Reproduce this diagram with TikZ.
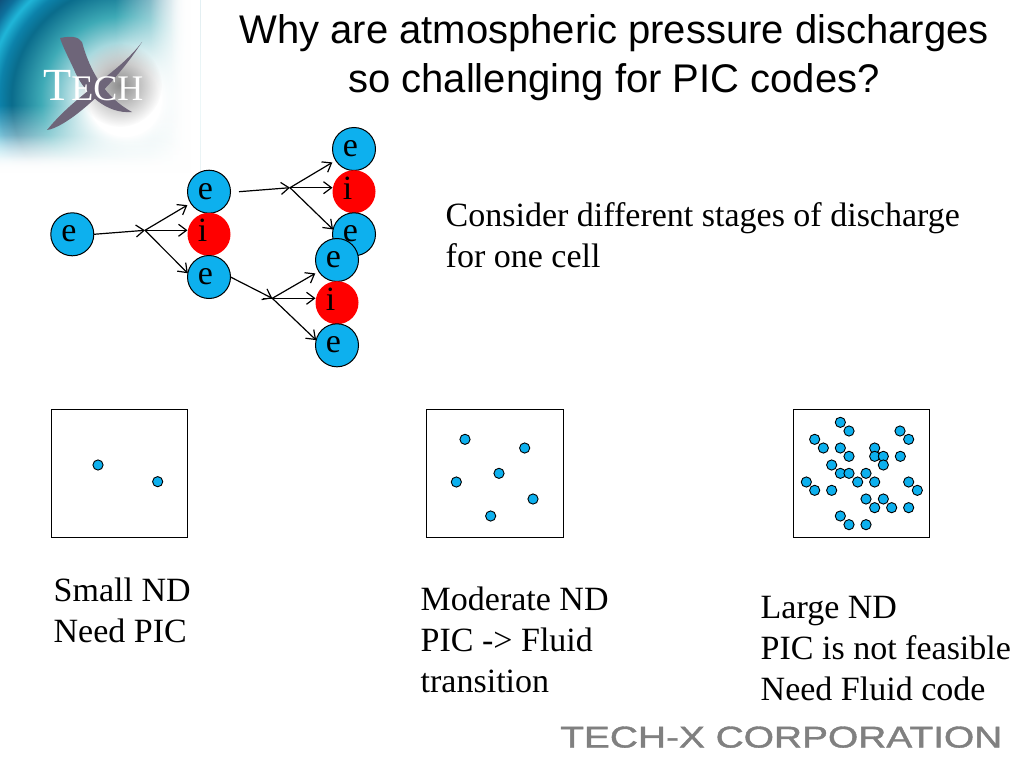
\documentclass[tikz,border=0pt]{standalone}
\usepackage{fontspec}
\setmainfont{Liberation Serif}
\newfontfamily\titlefont{Liberation Sans}
\usetikzlibrary{arrows.meta,fadings,calc}
\definecolor{dotblue}{HTML}{0DB0EE}
\definecolor{ionred}{HTML}{FF0000}
\definecolor{swoosh}{HTML}{6E6579}
\definecolor{footgray}{HTML}{808080}
\definecolor{lgA}{HTML}{3EAAB6}
\definecolor{lgB}{HTML}{0A6C8C}
\definecolor{lgC}{HTML}{0C82AA}
\definecolor{lgD}{HTML}{20B6D8}
\definecolor{lgE}{HTML}{0E709C}
\definecolor{lgF}{HTML}{0F3E68}
\definecolor{lgG}{HTML}{0D2F55}
\pgfdeclareradialshading{logoring}{\pgfpoint{0bp}{0bp}}{%
color(0bp)=(white);
color(4.5bp)=(white);
color(10.5bp)=(lgA);
color(14.2bp)=(lgB);
color(15.7bp)=(lgC);
color(17.2bp)=(lgD);
color(18.7bp)=(lgE);
color(20.9bp)=(lgF);
color(50bp)=(lgG)}
\tikzfading[name=toRight,left color=transparent!100,right color=transparent!0]
\tikzfading[name=toBottom,top color=transparent!100,bottom color=transparent!0]
\tikzfading[name=softdisc,inner color=transparent!0,outer color=transparent!100]
\tikzset{
  particle/.style={circle,minimum size=43pt,inner sep=0pt,outer sep=0pt,font=\fontsize{34}{34}\selectfont},
  elec/.style={particle,draw=black,line width=1pt,fill=dotblue},
  ion/.style={particle,fill=ionred},
  conn/.style={line width=1.2pt,draw=black,-{Straight Barb[length=8pt,width=12pt]}},
  stem/.style={line width=1.2pt,draw=black,-{Straight Barb[length=8pt,width=12pt]}},
  panel/.style={draw=black,line width=1pt,fill=white,minimum width=136.5pt,minimum height=128pt,inner sep=0pt},
  dot/.style={circle,draw=black,line width=.9pt,fill=dotblue,minimum size=10.2pt,inner sep=0pt},
  body/.style={anchor=north west,align=left,inner sep=0pt,font=\fontsize{34}{41}\selectfont},
  titletext/.style={anchor=base,inner sep=0pt,font=\titlefont\fontsize{40}{47.5}\selectfont}
}
\newcommand{\eletter}{\raisebox{-7.6pt}[0pt][0pt]{\makebox[0pt][c]{\hspace{-7pt}e}}}
\newcommand{\iletter}{\raisebox{-7.6pt}[0pt][0pt]{\makebox[0pt][c]{\hspace{-13pt}i}}}
\begin{document}
\begin{tikzpicture}[x=1pt,y=-1pt]
\useasboundingbox (0,0) rectangle (1024,768);
\fill[white] (0,0) rectangle (1024,768);
% logo
\begin{scope}
\clip (0,0) rectangle (200,180);
\shade[shading=logoring] (125,100) circle (200);
\fill[white,path fading=toRight] (115,-2) rectangle (192,182);
\fill[white,path fading=toRight] (150,-2) rectangle (192,182);
\fill[white,path fading=toRight] (170,-2) rectangle (192,182);
\fill[white] (191,-2) rectangle (202,182);
\fill[white,path fading=toBottom] (-2,105) rectangle (202,174);
\fill[white,path fading=toBottom] (-2,135) rectangle (202,174);
\fill[white,path fading=toBottom] (-2,155) rectangle (202,174);
\fill[white] (-2,173) rectangle (202,182);
\fill[black!45,path fading=softdisc] (120,85) circle (42);
\fill[swoosh] (142,42) .. controls (118,74) and (78,92) .. (47,130) .. controls (64,128) and (108,94) .. (142,42) -- cycle;
\fill[swoosh] (60,38) .. controls (70,36) and (78,36) .. (82,42) .. controls (90,72) and (106,98) .. (132,112) .. controls (106,114) and (86,94) .. (76,74) .. controls (70,60) and (64,50) .. (60,38) -- cycle;
\end{scope}
\node[anchor=base west,inner sep=0pt,text=white] (logotext) at (43,100) {\fontsize{46}{46}\selectfont T\fontsize{36}{36}\selectfont ECH};
% title
\node[titletext] (title1) at (614,44) {Why are atmospheric pressure discharges};
\node[titletext] (title2) at (614,92) {so challenging for PIC codes?};
% particles
\node[elec] (a) at (72.3,234.3) {\eletter};
\node[elec] (b) at (209,191.7) {\eletter};
\node[ion] (c) at (209,234.3) {\iletter};
\node[elec] (d) at (209,277) {\eletter};
\node[elec] (te) at (354,149) {\eletter};
\node[ion] (ti) at (354,191.7) {\iletter};
\node[elec] (tf) at (354,234.3) {\eletter};
\node[elec] (be) at (337,260) {\eletter};
\node[ion] (bi) at (337,302.7) {\iletter};
\node[elec] (bf) at (337,345.3) {\eletter};
\coordinate (j1) at (145,230.3);
\coordinate (j2) at (290,187.7);
\coordinate (j3) at (272.3,298.3);
\coordinate (s2) at ($(b.east)+(8.5,0)$);
\draw[stem] (a.east) -- (j1);
\draw[conn,shorten >=4pt] (j1) -- (b.212);
\draw[conn] (j1) -- (c.west |- j1);
\draw[conn] (j1) -- (d.170);
\draw[stem] (s2) -- (j2);
\draw[conn,shorten >=4pt] (j2) -- (te.212);
\draw[conn] (j2) -- (ti.west |- j2);
\draw[conn] (j2) -- (tf.167);
\draw[stem] (d.east) -- (j3);
\draw[line width=1.2pt] (j3) ++(-9,0) -- (j3);
\draw[conn,shorten >=4pt] (j3) -- (be.212);
\draw[conn] (j3) -- (bi.west |- j3);
\draw[conn] (j3) -- (bf.166);
% body text
\node[body] (intro) at (445.5,202) {Consider different stages of discharge\\for one cell};
\node[body] (small) at (53.5,578) {Small ND\\Need PIC};
\node[body] (moderate) at (420.5,587) {Moderate ND\\PIC -> Fluid\\transition};
\node[body] (large) at (760.5,596) {Large ND\\PIC is not feasible\\Need Fluid code};
% panels
\node[panel] (p1) at (119.3,473.3) {};
\node[panel] (p2) at (495,473.3) {};
\node[panel] (p3) at (861.5,473.3) {};
\foreach \x/\y [count=\n] in {174/195,353/245}
  \node[dot] (pa\n) at ({40+\x/3},{400+\y/3}) {};
\foreach \x/\y [count=\n] in {150/118,329/144,252/220,124/246,354/297,227/348}
  \node[dot] (pb\n) at ({415+\x/3},{400+\y/3}) {};
\foreach \x/\y [count=\n] in {181/67,207/93,360/93,386/118,104/118,130/144,181/144,284/144,207/169,284/169,310/169,361/169,155/195,310/195,181/220,207/220,258/220,79/246,233/246,284/246,386/246,104/271,155/271,412/271,258/297,310/297,284/323,335/323,386/323,181/348,207/374,258/374}
  \node[dot] (pc\n) at ({780+\x/3},{400+\y/3}) {};
% footer
\node[anchor=south west,inner sep=0pt,text=footgray] (footer) at (560,748)
  {\resizebox{442pt}{21pt}{\titlefont\addfontfeature{FakeBold=1.2}TECH-X CORPORATION}};
\end{tikzpicture}
\end{document}
